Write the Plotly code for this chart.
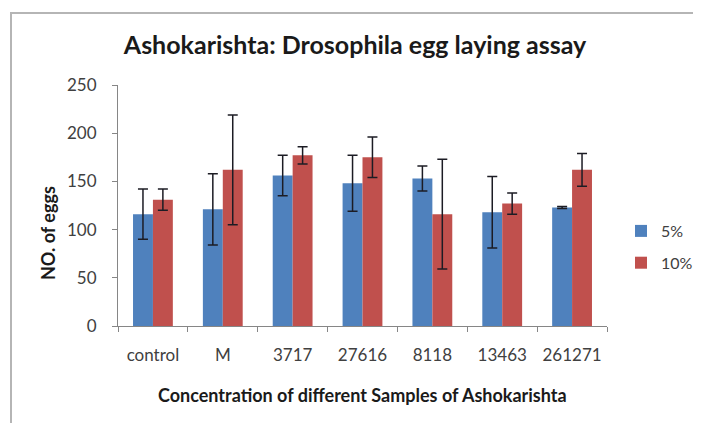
import plotly.graph_objects as go

categories = ["control", "M", "3717", "27616", "8118", "13463", "261271"]
series_names = ["5%", "10%"]
values_5 = [116, 121, 156, 148, 153, 118, 123]
errors_5 = [26, 37, 21, 29, 13, 37, 1]
values_10 = [131, 162, 177, 175, 116, 127, 162]
errors_10 = [11, 57, 9, 21, 57, 11, 17]
y_ticks = [0, 50, 100, 150, 200, 250]

# page body has an 8px margin, so the figure is drawn 8px right/down
OFF = 8
W, H = 693, 415
L, R, T, B = 110, 94, 77, 97
pw, ph = W - L - R, H - T - B

def px_x(sx):
    return (sx - OFF - L) / pw

def px_y(sy):
    return (H - B - (sy - OFF)) / ph

font_family = "Lato, 'Open Sans', sans-serif"
err_color = "#1c1c24"
dark = "#1a1a1a"

fig = go.Figure()
fig.add_trace(go.Bar(
    x=categories, y=values_5, name=series_names[0],
    marker=dict(color="#4F81BD", line=dict(width=0)),
    error_y=dict(type="data", array=errors_5, color=err_color, thickness=1.5, width=5),
    legendgroup="a",
))
fig.add_trace(go.Bar(
    x=categories, y=values_10, name=series_names[1],
    marker=dict(color="#C0504D", line=dict(width=0)),
    error_y=dict(type="data", array=errors_10, color=err_color, thickness=1.5, width=5),
    legendgroup="b",
))

fig.update_layout(
    width=W, height=H,
    margin=dict(l=L, r=R, t=T, b=B, autoexpand=False),
    paper_bgcolor="white", plot_bgcolor="white",
    barmode="group", bargap=0.43, bargroupgap=0,
    font=dict(family=font_family, color="#404040", size=17),
    title=dict(
        text="<b>Ashokarishta: Drosophila egg laying assay</b>",
        x=px_x(355), xref="paper", xanchor="center",
        y=1 - (45 - OFF) / H, yanchor="middle",
        font=dict(size=25, color=dark, family=font_family),
    ),
    xaxis=dict(
        showline=True, linecolor="#868686", linewidth=1,
        ticks="outside", tickson="boundaries", ticklen=5, tickcolor="#868686",
        showgrid=False, tickfont=dict(size=17, color="#404040"),
        tickangle=0, ticklabelstandoff=14,
    ),
    yaxis=dict(
        range=[0, 250], tickvals=y_ticks,
        showline=True, linecolor="#868686", linewidth=1,
        ticks="outside", ticklen=5, tickcolor="#868686",
        showgrid=False, zeroline=False, tickfont=dict(size=17, color="#404040"),
        ticklabelstandoff=12,
    ),
    legend=dict(
        x=px_x(621), xanchor="left", y=px_y(214), yanchor="top",
        font=dict(size=16, color="#404040"), tracegroupgap=8,
        bgcolor="rgba(0,0,0,0)", itemwidth=30,
    ),
    showlegend=True,
)

fig.add_annotation(
    text="<b>Concentration of different Samples of Ashokarishta</b>",
    xref="paper", yref="paper", x=px_x(362), y=px_y(395),
    xanchor="center", yanchor="middle", showarrow=False,
    font=dict(size=18, color=dark),
)
fig.add_annotation(
    text="<b>NO. of eggs</b>",
    xref="paper", yref="paper", x=px_x(48), y=px_y(233),
    xanchor="center", yanchor="middle", showarrow=False, textangle=-90,
    font=dict(size=18, color=dark),
)

fig.add_shape(
    type="rect", xref="paper", yref="paper",
    x0=px_x(11), x1=px_x(697), y0=px_y(440), y1=px_y(13),
    line=dict(color="#b5b5b5", width=2), fillcolor="rgba(0,0,0,0)", layer="below",
)

fig.write_html("out.html")
